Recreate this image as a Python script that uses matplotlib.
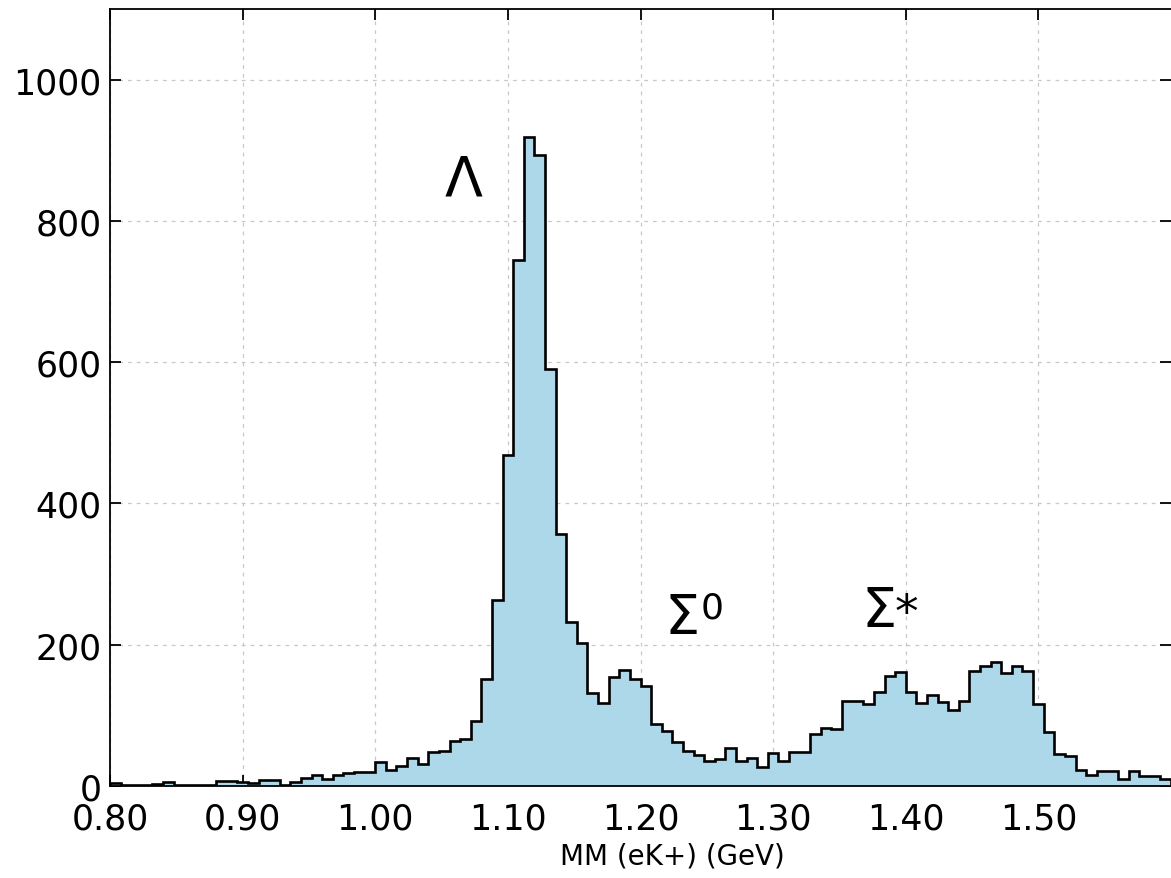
import numpy as np
import matplotlib
matplotlib.use('Agg')
import matplotlib.pyplot as plt

# Datos: histograma de masa faltante, 100 bins de 0.8 a 1.6 GeV
bin_lo, bin_hi, n_bins = 0.80, 1.60, 100
counts = [
    4, 1, 1, 1, 3, 5, 2, 2, 2, 2,
    7, 7, 5, 4, 8, 8, 1, 5, 11, 16,
    10, 16, 18, 20, 20, 34, 22, 28, 39, 31,
    48, 49, 63, 67, 92, 152, 264, 468, 744, 919,
    894, 590, 357, 232, 203, 132, 117, 154, 164, 151,
    141, 88, 78, 62, 49, 44, 36, 38, 54, 35,
    40, 27, 47, 35, 48, 48, 74, 82, 81, 120,
    120, 116, 133, 156, 161, 133, 118, 129, 119, 108,
    121, 163, 170, 176, 160, 170, 163, 116, 77, 45,
    43, 22, 15, 21, 21, 10, 21, 14, 14, 10,
]
x_ticks = [0.80, 0.90, 1.00, 1.10, 1.20, 1.30, 1.40, 1.50]
y_ticks = [0, 200, 400, 600, 800, 1000]

edges = np.linspace(bin_lo, bin_hi, n_bins + 1)

fig = plt.figure(figsize=(11.71, 8.79), dpi=100)
ax = fig.add_axes([110 / 1171, 92 / 879, 1 - 110 / 1171, 777 / 879])

ax.stairs(counts, edges, fill=True, color='#add8ea', zorder=2)
ax.stairs(counts, edges, color='black', linewidth=1.9, zorder=3)

ax.set_xlim(bin_lo, bin_hi)
ax.set_ylim(0, 1100)
ax.set_xticks(x_ticks)
ax.set_xticklabels(['%.2f' % t for t in x_ticks])
ax.set_yticks(y_ticks)
ax.tick_params(axis='both', direction='in', length=8, width=1.3,
               top=True, right=True, labelsize=25)
ax.tick_params(axis='x', pad=11)
ax.tick_params(axis='y', pad=6)
ax.spines['right'].set_visible(False)
for s in ['left', 'bottom', 'top']:
    ax.spines[s].set_linewidth(1.3)

ax.grid(True, color='#c8c8c8', linestyle=(0, (3, 4)), linewidth=0.9, zorder=0)
ax.set_axisbelow(True)

ax.set_xlabel('MM (eK+) (GeV)', fontsize=20)
ax.xaxis.set_label_coords((672 - 110) / 1061, -0.072)

# Etiquetas de las partículas
ax.text(1.052, 837, 'Λ', fontsize=40, ha='left', va='baseline')
ax.text(1.2178, 216, 'Σ', fontsize=40, ha='left', va='baseline')
ax.text(1.2454, 238, '0', fontsize=26, ha='left', va='baseline')
ax.text(1.3666, 226, 'Σ', fontsize=40, ha='left', va='baseline')
ax.text(1.3915, 226, '*', fontsize=34, ha='left', va='baseline')

plt.savefig('out.png', dpi=100)
